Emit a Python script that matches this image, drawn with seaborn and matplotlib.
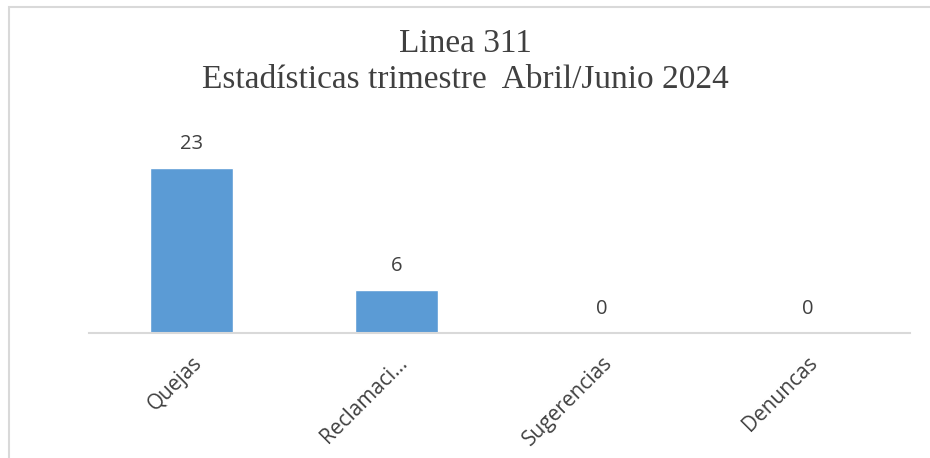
import matplotlib
matplotlib.use("Agg")
import matplotlib.pyplot as plt
import pandas as pd
import seaborn as sns
from matplotlib.patches import Rectangle

categorias = ["Quejas", "Reclamaci...", "Sugerencias", "Denuncas"]
cantidades = [23, 6, 0, 0]
titulo = "Linea 311\nEstadísticas trimestre  Abril/Junio 2024"

df = pd.DataFrame({"categoria": categorias, "cantidad": cantidades})

sns.set_theme(style="white")
plt.rcParams["font.family"] = ["Open Sans", "DejaVu Sans"]

fig = plt.figure(figsize=(9.3, 4.58), dpi=100)
ax = fig.add_axes([89 / 930, 1 - 333 / 458, 821 / 930, 179 / 458])

sns.barplot(data=df, x="categoria", y="cantidad", color="#5B9BD5",
            width=0.405, saturation=1, ax=ax)
ax.set_ylim(0, 25)
ax.set_xlim(-0.5, len(categorias) - 0.5)

for c in ax.containers:
    ax.bar_label(c, padding=10, fontsize=14.5, color="#404040")

for s in ["top", "right", "left"]:
    ax.spines[s].set_visible(False)
ax.spines["bottom"].set_color("#d9d9d9")
ax.spines["bottom"].set_linewidth(1.5)
ax.set_yticks([])
ax.set_xlabel("")
ax.set_ylabel("")
ax.tick_params(axis="x", length=0, pad=14)
plt.setp(ax.get_xticklabels(), rotation=45, ha="right", rotation_mode="anchor",
         fontsize=15, color="#404040")

fig.text(0.5, 1 - 62 / 458, titulo, ha="center", va="center", fontsize=24,
         family=["Liberation Serif", "DejaVu Serif"], color="#404040",
         linespacing=1.22)

# marco del grafico (solo bordes izquierdo y superior visibles)
fig.patches.append(Rectangle((8.5 / 930, -0.1), 1.2, 1 - 6.5 / 458 + 0.1,
                             transform=fig.transFigure, fill=False,
                             edgecolor="#d9d9d9", linewidth=1.5, clip_on=False))

fig.savefig("out.png", dpi=100)
